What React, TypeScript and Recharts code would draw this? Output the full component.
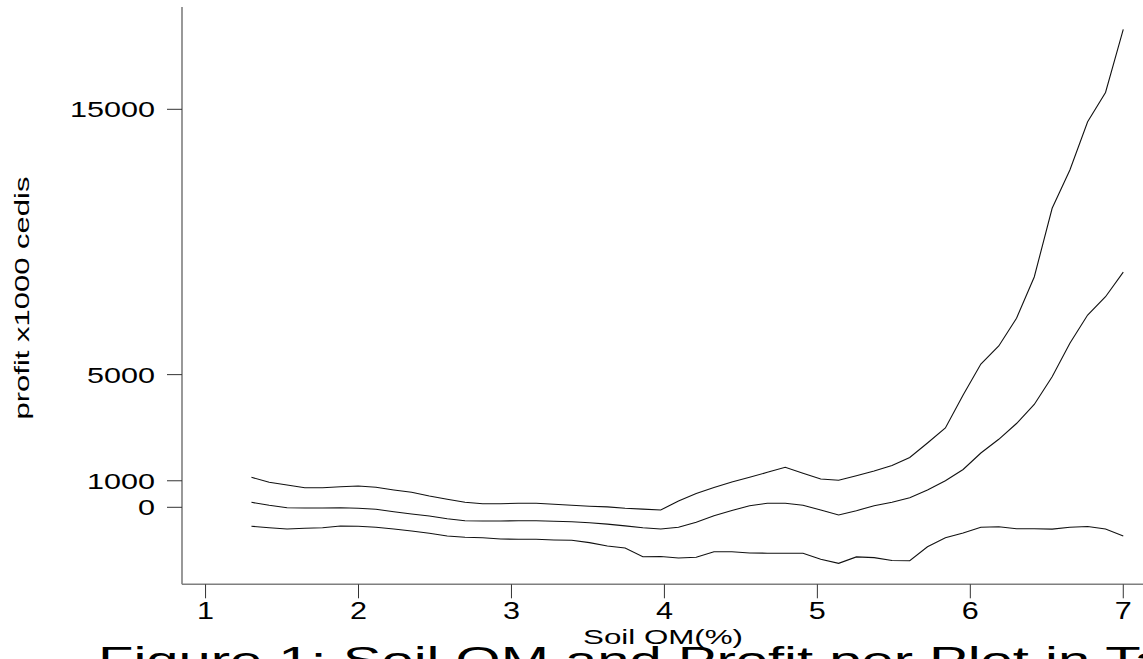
import { Label, Line, LineChart, XAxis, YAxis } from "recharts";

// soil organic matter (%) at which the smoother was evaluated
const soilOm = [
  1.3, 1.416, 1.533, 1.649, 1.765, 1.882, 1.998, 2.114, 2.231, 2.347,
  2.463, 2.58, 2.696, 2.812, 2.929, 3.045, 3.161, 3.278, 3.394, 3.51,
  3.627, 3.743, 3.859, 3.976, 4.092, 4.208, 4.324, 4.441, 4.557, 4.673,
  4.79, 4.906, 5.022, 5.139, 5.255, 5.371, 5.488, 5.604, 5.72, 5.837,
  5.953, 6.069, 6.186, 6.302, 6.418, 6.535, 6.651, 6.767, 6.884, 7.0,
];

const upperBand = [
  1131, 942, 840, 739, 739, 776, 803, 754, 652, 565,
  426, 302, 188, 136, 136, 151, 151, 113, 75, 41,
  15, -34, -68, -102, 237, 524, 746, 954, 1131, 1319,
  1508, 1281, 1067, 1018, 1191, 1368, 1575, 1877, 2423, 2989,
  4233, 5401, 6079, 7123, 8680, 11269, 12713, 14533, 15634, 18016,
];

const fitted = [
  188, 75, -15, -26, -26, -15, -38, -75, -166, -253,
  -328, -430, -505, -516, -516, -505, -505, -528, -543, -584,
  -633, -701, -769, -818, -754, -565, -320, -121, 60, 151,
  151, 79, -102, -290, -128, 60, 188, 362, 652, 1003,
  1425, 2047, 2563, 3158, 3875, 4922, 6181, 7248, 7937, 8861,
];

const lowerBand = [
  -716, -769, -818, -791, -769, -705, -716, -754, -818, -893,
  -980, -1082, -1131, -1146, -1195, -1206, -1206, -1232, -1244, -1330,
  -1459, -1534, -1862, -1854, -1911, -1885, -1673, -1673, -1722, -1730,
  -1734, -1730, -1956, -2111, -1869, -1896, -2005, -2013, -1485, -1146,
  -969, -754, -731, -807, -807, -822, -754, -724, -818, -1082,
];

const xTicks = [1, 2, 3, 4, 5, 6, 7];
const yTicks = [0, 1000, 5000, 15000];

const rows = soilOm.map((om, i) => ({
  om,
  upper: upperBand[i],
  fit: fitted[i],
  lower: lowerBand[i],
}));

const FONT = "'Liberation Sans', Arial, Helvetica, sans-serif";
const DIGIT_W = 17;

function YTick(props: any) {
  const label = String(props.payload.value);
  return (
    <text
      x={props.x}
      y={props.y + 8}
      textAnchor="end"
      fontFamily={FONT}
      fontSize={22}
      fill="#000"
      textLength={label.length * DIGIT_W}
      lengthAdjust="spacingAndGlyphs"
    >
      {label}
    </text>
  );
}

function XTick(props: any) {
  const label = String(props.payload.value);
  return (
    <text
      x={props.x}
      y={props.y + 21}
      textAnchor="middle"
      fontFamily={FONT}
      fontSize={23}
      fill="#000"
      textLength={label.length * DIGIT_W}
      lengthAdjust="spacingAndGlyphs"
    >
      {label}
    </text>
  );
}

function YTitle() {
  return (
    <text
      x={29}
      y={298}
      transform="rotate(-90 29 298)"
      textAnchor="middle"
      fontFamily={FONT}
      fontSize={20}
      fill="#000"
      textLength={243}
      lengthAdjust="spacingAndGlyphs"
    >
      profit x1000 cedis
    </text>
  );
}

function XTitle() {
  return (
    <text
      x={663}
      y={644}
      textAnchor="middle"
      fontFamily={FONT}
      fontSize={20}
      fill="#000"
      textLength={160}
      lengthAdjust="spacingAndGlyphs"
    >
      Soil OM(%)
    </text>
  );
}

export default function App() {
  return (
    <div style={{ position: "absolute", left: 0, top: 0, width: 1143, height: 659, background: "#fff", overflow: "hidden" }}>
      <LineChart width={1143} height={659} data={rows} margin={{ top: 7, right: 0, bottom: 0, left: 0 }}>
        <XAxis
          type="number"
          dataKey="om"
          domain={[0.846, 7.129]}
          ticks={xTicks}
          allowDataOverflow
          height={74.7}
          tickSize={14}
          tickMargin={0}
          axisLine={{ stroke: "#7f7f7f", strokeWidth: 1.6 }}
          tickLine={{ stroke: "#333", strokeWidth: 1 }}
          tick={<XTick />}
        >
          <Label content={<XTitle />} />
        </XAxis>
        <YAxis
          type="number"
          domain={[-2902, 18856]}
          ticks={yTicks}
          allowDataOverflow
          width={182}
          tickSize={15}
          tickMargin={12}
          axisLine={{ stroke: "#7f7f7f", strokeWidth: 1.6 }}
          tickLine={{ stroke: "#333", strokeWidth: 1 }}
          tick={<YTick />}
        >
          <Label content={<YTitle />} />
        </YAxis>
        <Line type="linear" dataKey="upper" stroke="#111" strokeWidth={1.1} dot={false} isAnimationActive={false} />
        <Line type="linear" dataKey="fit" stroke="#111" strokeWidth={1.1} dot={false} isAnimationActive={false} />
        <Line type="linear" dataKey="lower" stroke="#111" strokeWidth={1.1} dot={false} isAnimationActive={false} />
      </LineChart>
      <svg width={1143} height={659} style={{ position: "absolute", left: 0, top: 0, pointerEvents: "none" }}>
        <text
          x={98}
          y={673}
          fontFamily={FONT}
          fontSize={37}
          fill="#000"
          textLength={1194}
          lengthAdjust="spacingAndGlyphs"
        >
          Figure 1: Soil OM and Profit per Plot in Tamale
        </text>
      </svg>
    </div>
  );
}
